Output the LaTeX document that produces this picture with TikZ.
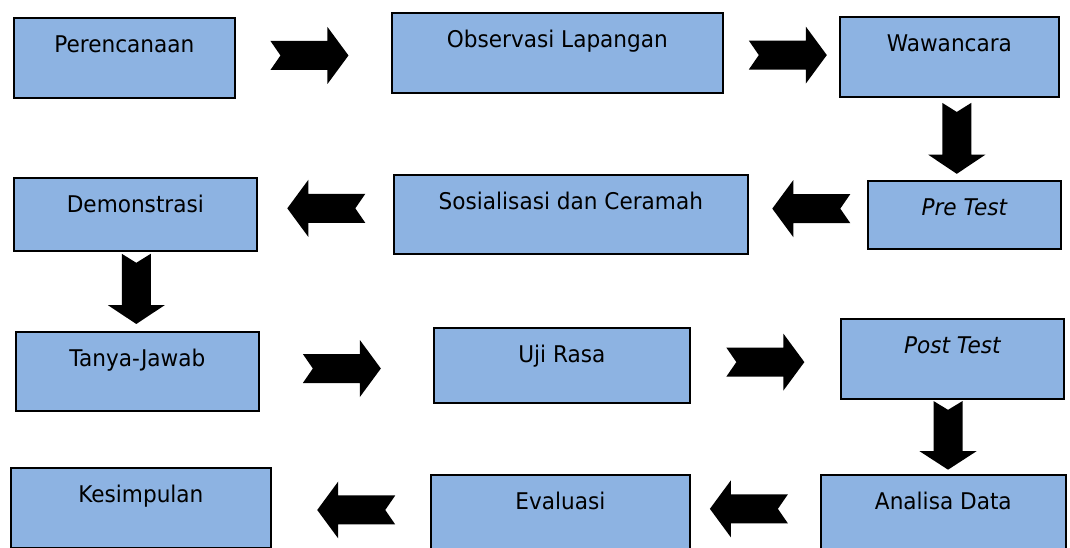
\documentclass[tikz,border=0pt]{standalone}
\usepackage{fontspec}
\setmainfont{DejaVu Sans}[FakeStretch=0.94]
\usepackage{xcolor}
\usepackage{tikz}
\usetikzlibrary{positioning, calc}

\definecolor{boxblue}{HTML}{8DB3E2}

\begin{document}
\begin{tikzpicture}[
		x=1pt, y=-1pt,
		every node/.style={font=\fontsize{23}{27}\selectfont},
		process/.style={rectangle, draw=black, line width=1.7pt, fill=boxblue, anchor=north west, inner xsep=0pt, inner ysep=0pt, text height=35pt, text centered},
		blockarrow/.pic={\fill[black] (-39,-14.5) -- (18,-14.5) -- (18,-28.5) -- (39,0) -- (18,28.5) -- (18,14.5) -- (-39,14.5) -- (-29,0) -- cycle;}
		]
		\useasboundingbox (0,0) rectangle (1070,548);
		
		% Nodes
		\node[process, minimum width=221pt, text depth=45pt] (perencanaan) at (13,17) {Perencanaan};
		\node[process, minimum width=331pt, text depth=45pt] (observasi) at (391,12) {Observasi Lapangan};
		\node[process, minimum width=219pt, text depth=45pt] (wawancara) at (839,16) {Wawancara};
		\node[process, minimum width=193pt, text depth=33pt] (pretest) at (867,180) {\itshape Pre Test};
		\node[process, minimum width=354pt, text depth=44pt] (sosialisasi) at (393,174) {Sosialisasi dan Ceramah};
		\node[process, minimum width=243pt, text depth=38pt] (demonstrasi) at (13,177) {Demonstrasi};
		\node[process, minimum width=243pt, text depth=44pt] (tanyajawab) at (15,331) {Tanya-Jawab};
		\node[process, minimum width=256pt, text depth=40pt] (ujirasa) at (433,327) {Uji Rasa};
		\node[process, minimum width=223pt, text depth=45pt] (posttest) at (840,318) {\itshape Post Test};
		\node[process, minimum width=260pt, text depth=45pt] (kesimpulan) at (10,467) {Kesimpulan};
		\node[process, minimum width=259pt, text depth=39pt] (evaluasi) at (430,474) {Evaluasi};
		\node[process, minimum width=245pt, text depth=39pt] (analisa) at (820,474) {Analisa Data};
		
		% Block arrows
		\pic at ($(perencanaan.east)!.475!(observasi.west)$) {blockarrow};
		\pic at ($(observasi.east)!.556!(wawancara.west)$) {blockarrow};
		\pic[rotate=-90, xscale=0.91] at ($(wawancara.south)!.494!(pretest.north)$) {blockarrow};
		\pic[rotate=180] at ($(pretest.west)!.471!(sosialisasi.east)+(0,-6)$) {blockarrow};
		\pic[rotate=180] at ($(sosialisasi.west)!.493!(demonstrasi.east)+(0,-6)$) {blockarrow};
		\pic[rotate=-90, xscale=0.9] at ($(demonstrasi.south)!.469!(tanyajawab.north)$) {blockarrow};
		\pic at ($(tanyajawab.east)!.474!(ujirasa.west)$) {blockarrow};
		\pic at ($(ujirasa.east)!.5!(posttest.west)$) {blockarrow};
		\pic[rotate=-90, xscale=0.88] at ($(posttest.south)!.48!(analisa.north)$) {blockarrow};
		\pic[rotate=180] at ($(analisa.west)!.55!(evaluasi.east)+(0,-3)$) {blockarrow};
		\pic[rotate=180] at ($(evaluasi.west)!.466!(kesimpulan.east)$) {blockarrow};
		
	\end{tikzpicture}
\end{document}
